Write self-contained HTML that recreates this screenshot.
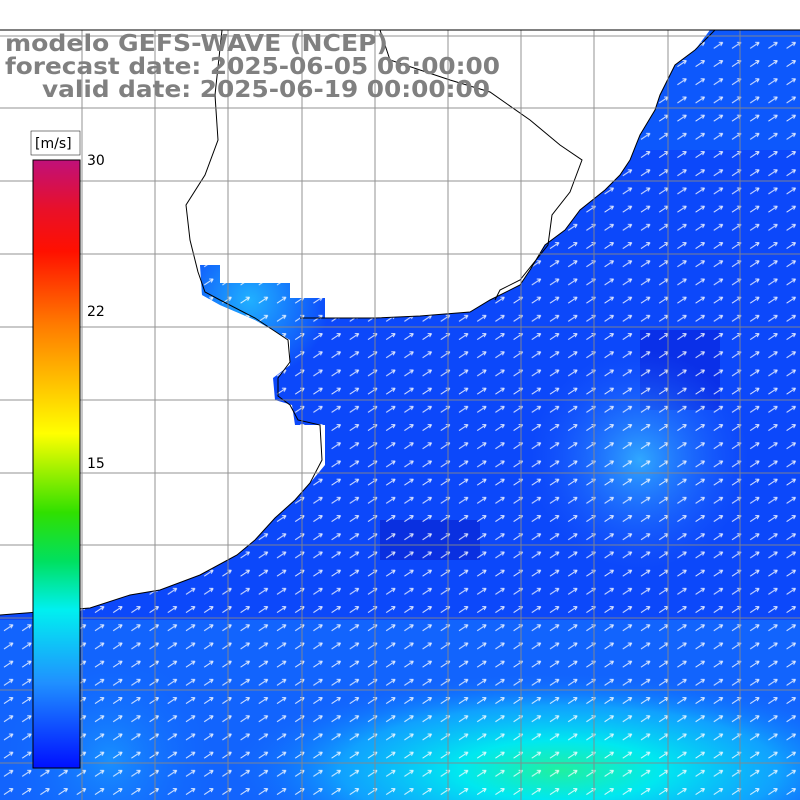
<!DOCTYPE html>
<html><head><meta charset="utf-8"><style>
body{margin:0;background:#fff;}
svg{display:block;}
</style></head><body>
<svg width="800" height="800" viewBox="0 0 800 800" xmlns="http://www.w3.org/2000/svg">
<defs>
<clipPath id="oc"><path d="M0,630 L0,615 L90,608 L130,595 L160,590 L200,575 L237,555 L255,540 L275,518 L295,500 L310,483 L325,465 L325,425 L295,425 L292,405 L275,400 L273,378 L290,365 L290,340 L255,320 L220,305 L202,295 L200,265 L220,265 L220,283 L290,283 L290,298 L325,298 L325,318 L375,318 L420,316 L470,312 L490,300 L520,285 L530,270 L545,245 L565,230 L580,210 L605,190 L620,175 L630,160 L640,135 L655,110 L660,95 L675,65 L695,50 L710,30 L800,30 L800,800 L0,800 Z"/></clipPath>
<linearGradient id="cb" x1="0" y1="0" x2="0" y2="1">
<stop offset="0" stop-color="#c0107a"/>
<stop offset="0.08" stop-color="#e8102a"/>
<stop offset="0.15" stop-color="#ff1000"/>
<stop offset="0.27" stop-color="#ff7a00"/>
<stop offset="0.45" stop-color="#ffff00"/>
<stop offset="0.58" stop-color="#30e000"/>
<stop offset="0.66" stop-color="#00e060"/>
<stop offset="0.74" stop-color="#00f0f0"/>
<stop offset="0.86" stop-color="#2090ff"/>
<stop offset="1" stop-color="#0010ff"/>
</linearGradient>
<radialGradient id="g1" cx="560" cy="770" r="260" gradientUnits="userSpaceOnUse" gradientTransform="translate(560 770) scale(1.3 0.38) translate(-560 -770)">
<stop offset="0" stop-color="#20f0a0"/>
<stop offset="0.3" stop-color="#00e8f0"/>
<stop offset="0.65" stop-color="#10b0ff" stop-opacity="0.8"/>
<stop offset="1" stop-color="#1060ff" stop-opacity="0"/>
</radialGradient>
<radialGradient id="g2" cx="640" cy="460" r="110" gradientUnits="userSpaceOnUse">
<stop offset="0" stop-color="#30a8ff"/>
<stop offset="1" stop-color="#2060ff" stop-opacity="0"/>
</radialGradient>
<radialGradient id="g3" cx="110" cy="760" r="120" gradientUnits="userSpaceOnUse">
<stop offset="0" stop-color="#1890ff"/>
<stop offset="1" stop-color="#1060ff" stop-opacity="0"/>
</radialGradient>
<radialGradient id="g4" cx="250" cy="300" r="80" gradientUnits="userSpaceOnUse">
<stop offset="0" stop-color="#20b0ff"/>
<stop offset="1" stop-color="#20b0ff" stop-opacity="0"/>
</radialGradient>
<pattern id="ar" x="0" y="0" width="18.2" height="18.2" patternUnits="userSpaceOnUse">
<path d="M4,12 L13,6 M13,6 L9,6 M13,6 L11,9.5" stroke="#fff" stroke-width="1" fill="none"/>
</pattern>
</defs>
<g clip-path="url(#oc)">
<rect x="0" y="0" width="800" height="800" fill="#0c48fa"/>
<rect x="0" y="30" width="800" height="120" fill="#1070ff" opacity="0.4"/>
<rect x="0" y="620" width="800" height="180" fill="#1880ff" opacity="0.5"/>
<rect x="640" y="330" width="80" height="80" fill="#0a30e8"/>
<rect x="380" y="520" width="100" height="40" fill="#0a30e0"/>
<rect x="0" y="0" width="800" height="800" fill="url(#g2)"/>
<rect x="0" y="0" width="800" height="800" fill="url(#g3)"/>
<rect x="0" y="0" width="800" height="800" fill="url(#g4)"/>
<rect x="0" y="0" width="800" height="800" fill="url(#g1)"/>
<rect x="0" y="0" width="800" height="800" fill="url(#ar)" opacity="0.85"/>
</g>
<path d="M0,615 L90,608 L130,595 L160,590 L200,575 L237,555 L255,540 L275,518 L295,500 L310,483 L322,460 L320,425 L298,420 L290,405 L278,396 L278,378 L290,362 L288,340 L255,318 L220,300 L205,292 L198,272 M300,318 L375,318 L420,316 L470,312 L490,300 L520,285 L530,270 L545,245 L565,230 L580,210 L605,190 L620,175 L630,160 L640,135 L655,110 L660,95 L675,65 L695,50 L715,30 M198,272 L190,240 L186,205 L205,175 L218,140 L215,95 L222,30 M495,300 L500,290 L520,280 L548,245 L552,215 L570,192 L582,160 L560,145 L530,120 L490,92 L450,80 L390,60 L380,30" stroke="#000" stroke-width="1" fill="none"/>
<g stroke="#888" stroke-width="1" opacity="0.9">
<line x1="82" y1="30" x2="82" y2="800"/><line x1="155" y1="30" x2="155" y2="800"/><line x1="228" y1="30" x2="228" y2="800"/><line x1="302" y1="30" x2="302" y2="800"/><line x1="375" y1="30" x2="375" y2="800"/><line x1="448" y1="30" x2="448" y2="800"/><line x1="521" y1="30" x2="521" y2="800"/><line x1="594" y1="30" x2="594" y2="800"/><line x1="668" y1="30" x2="668" y2="800"/><line x1="740" y1="30" x2="740" y2="800"/>
<line x1="0" y1="36" x2="800" y2="36"/><line x1="0" y1="108" x2="800" y2="108"/><line x1="0" y1="181" x2="800" y2="181"/><line x1="0" y1="254" x2="800" y2="254"/><line x1="0" y1="327" x2="800" y2="327"/><line x1="0" y1="400" x2="800" y2="400"/><line x1="0" y1="473" x2="800" y2="473"/><line x1="0" y1="545" x2="800" y2="545"/><line x1="0" y1="618" x2="800" y2="618"/><line x1="0" y1="690" x2="800" y2="690"/><line x1="0" y1="763" x2="800" y2="763"/>
</g>
<line x1="0" y1="30" x2="800" y2="30" stroke="#000" stroke-width="1"/>
<g font-family="DejaVu Sans, sans-serif" font-weight="bold" font-size="23" fill="#808080">
<text x="5" y="51" textLength="383" lengthAdjust="spacingAndGlyphs">modelo GEFS-WAVE (NCEP)</text>
<text x="5" y="74" textLength="495" lengthAdjust="spacingAndGlyphs">forecast date: 2025-06-05 06:00:00</text>
<text x="42" y="97" textLength="448" lengthAdjust="spacingAndGlyphs">valid date: 2025-06-19 00:00:00</text>
</g>
<rect x="33" y="160" width="47" height="608" fill="url(#cb)" stroke="#000" stroke-width="1"/>
<rect x="31" y="131" width="49" height="24" fill="#fff" stroke="#000" stroke-width="0.5"/>
<g font-family="DejaVu Sans, sans-serif" font-size="14" fill="#000">
<text x="35" y="148">[m/s]</text>
<text x="87" y="165">30</text>
<text x="87" y="316">22</text>
<text x="87" y="468">15</text>
</g>
</svg>
</body></html>
